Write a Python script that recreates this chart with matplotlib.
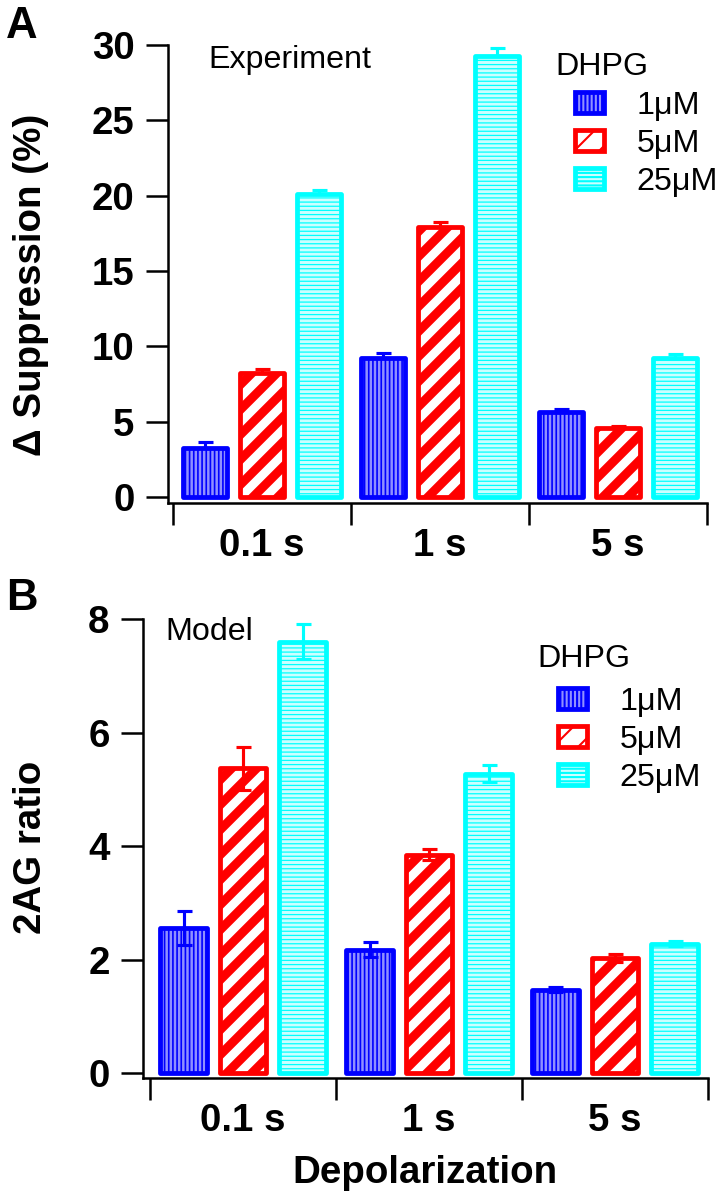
import matplotlib
matplotlib.use("Agg")
import matplotlib.pyplot as plt
import numpy as np

plt.rcParams['font.family'] = ['Liberation Sans', 'DejaVu Sans']

# ---------------- data ----------------
groups = ["0.1 s", "1 s", "5 s"]
doses = ["1μM", "5μM", "25μM"]

exp_1uM = [3.25, 9.25, 5.64]
exp_5uM = [8.2, 17.95, 4.58]
exp_25uM = [20.1, 29.3, 9.25]
exp_err_1uM = [0.4, 0.3, 0.2]
exp_err_5uM = [0.3, 0.3, 0.13]
exp_err_25uM = [0.25, 0.5, 0.25]

mod_1uM = [2.55, 2.17, 1.47]
mod_5uM = [5.37, 3.85, 2.02]
mod_25uM = [7.6, 5.27, 2.28]
mod_err_1uM = [0.3, 0.13, 0.04]
mod_err_5uM = [0.38, 0.1, 0.07]
mod_err_25uM = [0.31, 0.15, 0.05]

yticks_A = [0, 5, 10, 15, 20, 25, 30]
yticks_B = [0, 2, 4, 6, 8]

# ---------------- styles ----------------
styles = [
    dict(face='#9090ff', edge='#0000ff', hatch='|' * 6, hlw=0.8),
    dict(face='#ffffff', edge='#ff0000', hatch='//', hlw=4.3),
    dict(face='#ccffff', edge='#00ffff', hatch='-' * 6, hlw=0.6),
]
offsets = [-0.32, 0.0, 0.32]
bar_w = 0.25

DPI = 150
W, H = 720, 1199
fig = plt.figure(figsize=(W / DPI, H / DPI), dpi=DPI)


def px_axes(l, r, b, t):
    return fig.add_axes([l / W, 1 - b / H, (r - l) / W, (b - t) / H])


def draw_panel(ax, series, errs, ylim, yticks, xleft, upper_only):
    x = np.arange(len(groups)) + 0.5
    handles = []
    for i, (vals, err) in enumerate(zip(series, errs)):
        st = styles[i]
        with plt.rc_context({'hatch.linewidth': st['hlw']}):
            bars = ax.bar(x + offsets[i], vals, width=bar_w, color=st['face'],
                          edgecolor=st['edge'], hatch=st['hatch'], linewidth=2.3,
                          joinstyle='round', zorder=2)
        for p in bars.patches:
            if hasattr(p, 'set_hatch_linewidth'):
                p.set_hatch_linewidth(st['hlw'])
        yerr = [np.zeros(len(err)), err] if upper_only else err
        ax.errorbar(x + offsets[i], vals, yerr=yerr, fmt='none', ecolor=st['edge'],
                    elinewidth=1.5, capsize=3.6, capthick=1.5, zorder=3)
        handles.append(bars)
    ax.set_xlim(xleft, 3)
    ax.set_ylim(*ylim)
    ax.set_yticks(yticks)
    ax.set_yticklabels([str(t) for t in yticks])
    ax.set_xticks(x)
    ax.set_xticklabels(groups)
    ax.set_xticks([0, 1, 2, 3], minor=True)
    for s in ['top', 'right']:
        ax.spines[s].set_visible(False)
    for s in ['left', 'bottom']:
        ax.spines[s].set_linewidth(1.2)
    ax.tick_params(axis='y', direction='out', length=10.5, width=1.2, pad=5.5,
                   labelsize=18.5)
    for lab in ax.get_yticklabels():
        lab.set_fontweight('bold')
    ax.tick_params(axis='x', which='major', length=0, pad=12, labelsize=18.5)
    for lab in ax.get_xticklabels():
        lab.set_fontweight('bold')
    ax.tick_params(axis='x', which='minor', direction='out', length=10.5, width=1.2)
    return handles


# ---------------- panel A ----------------
axA = px_axes(168, 707, 503, 45)
hA = draw_panel(axA, [exp_1uM, exp_5uM, exp_25uM],
                [exp_err_1uM, exp_err_5uM, exp_err_25uM],
                (-0.4, 30), yticks_A, -0.028, True)
axA.text((208 - 168) / 539, (503 - 68) / 458, "Experiment", transform=axA.transAxes,
         fontsize=15.5, ha='left', va='baseline')
axA.text((555 - 168) / 539, (503 - 75) / 458, "DHPG", transform=axA.transAxes,
         fontsize=15.5, ha='left', va='baseline')
axA.legend(hA, doses, loc='upper left', bbox_to_anchor=((575 - 168) / 539, (503 - 91) / 458),
           frameon=False, fontsize=15.5, handlelength=0.9, handleheight=0.62,
           handletextpad=1.0, labelspacing=0.25, borderpad=0, borderaxespad=0)

# ---------------- panel B ----------------
axB = px_axes(143, 708, 1078, 619)
hB = draw_panel(axB, [mod_1uM, mod_5uM, mod_25uM],
                [mod_err_1uM, mod_err_5uM, mod_err_25uM],
                (-0.088, 8), yticks_B, -0.038, False)
axB.text((253 - 143) / 565, (1078 - 640) / 459, "Model", transform=axB.transAxes,
         fontsize=15.5, ha='right', va='baseline')
axB.text((537 - 143) / 565, (1078 - 667) / 459, "DHPG", transform=axB.transAxes,
         fontsize=15.5, ha='left', va='baseline')
axB.legend(hB, doses, loc='upper left', bbox_to_anchor=((558 - 143) / 565, (1078 - 687) / 459),
           frameon=False, fontsize=15.5, handlelength=0.9, handleheight=0.62,
           handletextpad=1.0, labelspacing=0.25, borderpad=0, borderaxespad=0)

# ---------------- labels ----------------
fig.text(31 / W, 1 - 285 / H, "Δ Suppression (%)", rotation=90, ha='center', va='center',
         fontsize=18.5, fontweight='bold')
fig.text(31 / W, 1 - 847 / H, "2AG ratio", rotation=90, ha='center', va='center',
         fontsize=18.5, fontweight='bold')
fig.text(425 / W, 1 - 1183 / H, "Depolarization", ha='center', va='baseline',
         fontsize=18.5, fontweight='bold')
fig.text(6 / W, 1 - 6 / H, "A", ha='left', va='top', fontsize=21, fontweight='bold')
fig.text(6 / W, 1 - 578 / H, "B", ha='left', va='top', fontsize=21, fontweight='bold')

fig.savefig("out.png", dpi=DPI)
